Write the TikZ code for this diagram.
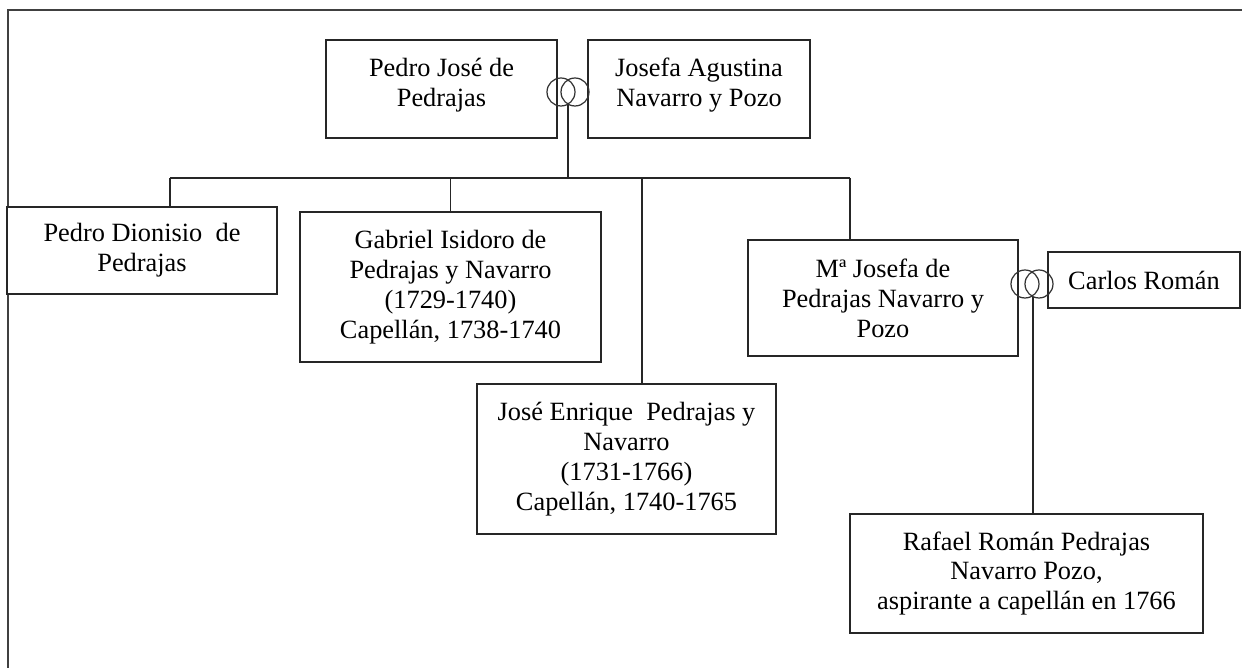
\documentclass[tikz,border=0pt]{standalone}
\usepackage{fontspec}
\setmainfont{Liberation Serif}
\usepackage{tikz}

\begin{document}
\begin{tikzpicture}[x=0.02cm,y=-0.02cm]
\useasboundingbox (0,0) rectangle (1242,668);
\draw[black!75, line width=1.3pt] (8,668) -- (8,10) -- (1242,10);

\begin{scope}[every node/.style={rectangle,draw=black!85,line width=1.1pt,fill=white,align=center,inner sep=0pt,font=\fontsize{15}{17}\selectfont}]
    \node (pjose)[minimum width=4.62cm,minimum height=1.96cm] at (441.5,89) {Pedro José de\\Pedrajas\\[-9pt]\mbox{}};
    \node (josefa)[minimum width=4.44cm,minimum height=1.96cm] at (699,89) {Josefa Agustina\\Navarro y Pozo\\[-9pt]\mbox{}};
    \node (dionisio)[minimum width=5.4cm,minimum height=1.74cm] at (142,250.5) {Pedro Dionisio \ de\\Pedrajas};
    \node (gabriel)[minimum width=6.02cm,minimum height=3cm] at (450.5,287) {Gabriel Isidoro de\\Pedrajas y Navarro\\(1729-1740)\\Capellán, 1738-1740};
    \node (jenrique)[minimum width=5.98cm,minimum height=3cm] at (626.5,459) {José Enrique \ Pedrajas y\\Navarro\\(1731-1766)\\Capellán, 1740-1765};
    \node (mjosefa)[minimum width=5.4cm,minimum height=2.32cm] at (883,298) {Mª Josefa de\\Pedrajas Navarro y\\Pozo};
    \node (carlos)[minimum width=3.84cm,minimum height=1.12cm] at (1144,280) {Carlos Román};
    \node (rafael)[minimum width=7.06cm,minimum height=2.38cm] at (1026.5,573.5) {Rafael Román Pedrajas\\Navarro Pozo,\\aspirante a capellán en 1766};
\end{scope}

\begin{scope}[every node/.style={circle,draw=black!80,line width=0.7pt,minimum size=0.56cm,inner sep=0pt}]
    \node (ringA) at (561,92) {};
    \node (ringB) at (575,92) {};
    \node (ringC) at (1025,284) {};
    \node (ringD) at (1039,284) {};
\end{scope}

\coordinate (m1) at (568,105);
\coordinate (m2) at (1033,297);
\coordinate (bl) at (170,178);
\coordinate (bj) at (642,178);
\coordinate (br) at (850,178);

\begin{scope}[every path/.style={draw=black!85,line width=0.8pt}]
    \path (bl) -- (br);
    \path (m1) -- (m1 |- bl);
    \path (bl) -- (bl |- dionisio.north);
    \path (gabriel.north) -- (gabriel.north |- bl);
    \path (bj) -- (bj |- jenrique.north);
    \path (br) -- (br |- mjosefa.north);
    \path (m2) -- (m2 |- rafael.north);
\end{scope}
\end{tikzpicture}
\end{document}
